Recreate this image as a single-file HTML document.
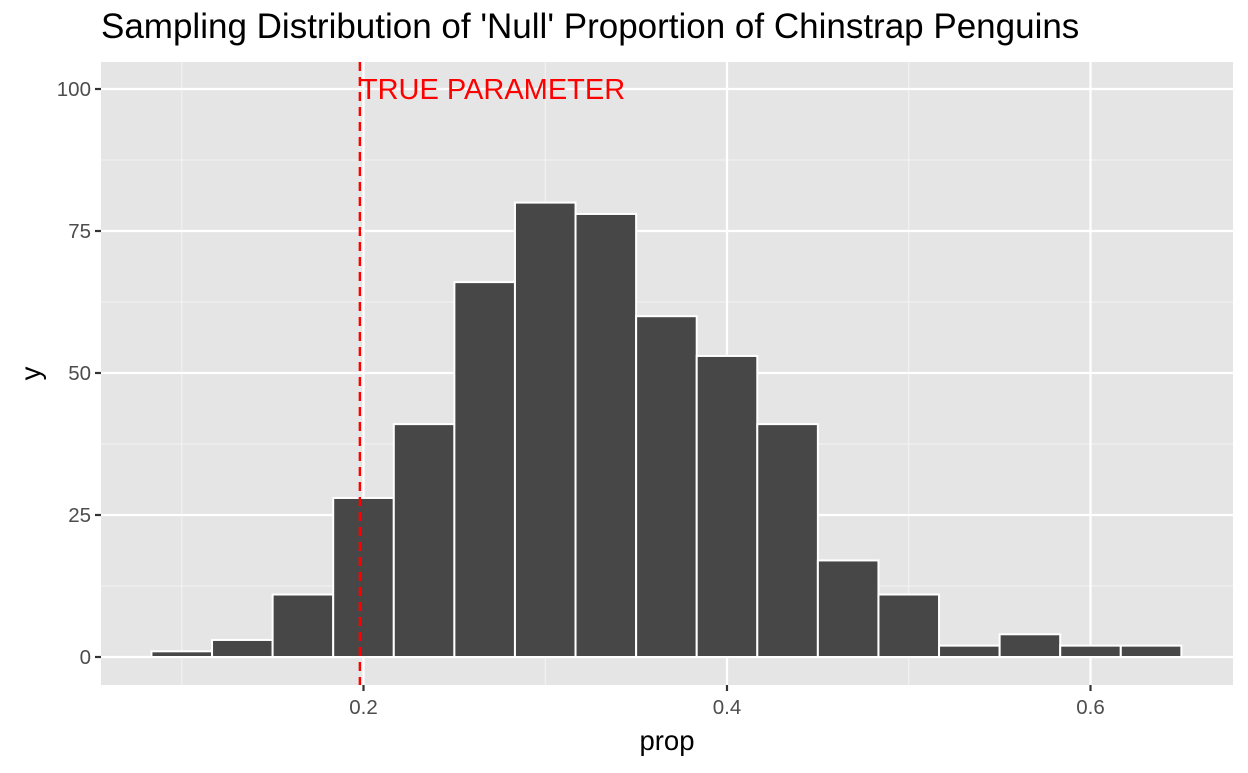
<!DOCTYPE html>
<html><head><meta charset="utf-8"><style>
body{margin:0;background:#fff;}
svg text{font-family:"Liberation Sans",sans-serif;}
</style></head><body>
<svg id="c" width="1248" height="768"></svg>
<script>
const counts=[1,3,11,28,41,66,80,78,60,53,41,17,11,2,4,2,2];
const firstCenter=0.1;
const binWidth=1/30;
const xTicks=[0.2,0.4,0.6];
const xMinor=[0.1,0.3,0.5];
const yTicks=[0,25,50,75,100];
const yMinor=[12.5,37.5,62.5,87.5];
const trueParam=0.198;
const P={l:101,r:1233,t:62,b:685};
const X=v=>363.5+(v-0.2)*1817.5;
const Y=v=>657-v*5.68;
const s=document.getElementById('c');
const NS='http://www.w3.org/2000/svg';
function mk(t,a,p){const e=document.createElementNS(NS,t);for(const k in a)e.setAttribute(k,a[k]);(p||s).appendChild(e);return e;}
let e=mk('rect',{x:P.l,y:P.t,width:P.r-P.l,height:P.b-P.t,fill:'#e5e5e5'});


xMinor.forEach(v=>{mk('line',{x1:X(v),x2:X(v),y1:P.t,y2:P.b,stroke:'#f2f2f2','stroke-width':1.1});});
yMinor.forEach(v=>{mk('line',{x1:P.l,x2:P.r,y1:Y(v),y2:Y(v),stroke:'#f2f2f2','stroke-width':1.1});});
xTicks.forEach(v=>{
 mk('line',{x1:X(v),x2:X(v),y1:P.t,y2:P.b,stroke:'#fff','stroke-width':2.2});
 mk('line',{x1:X(v),x2:X(v),y1:P.b,y2:P.b+6,stroke:'#333','stroke-width':2.2});
 const t=mk('text',{x:X(v),y:P.b+29,'text-anchor':'middle','font-size':20.5,fill:'#4d4d4d'});t.textContent=v.toFixed(1);
 
 
});
yTicks.forEach(v=>{
 mk('line',{x1:P.l,x2:P.r,y1:Y(v),y2:Y(v),stroke:'#fff','stroke-width':2.2});
 mk('line',{x1:P.l-6,x2:P.l,y1:Y(v),y2:Y(v),stroke:'#333','stroke-width':2.2});
 const t=mk('text',{x:P.l-10,y:Y(v)+7,'text-anchor':'end','font-size':20.5,fill:'#4d4d4d'});t.textContent=v;
 
 
});
counts.forEach((c,i)=>{
 const cx=firstCenter+i*binWidth;
 const x0=X(cx-binWidth/2),x1=X(cx+binWidth/2);
 const r=mk('rect',{x:x0,y:Y(c),width:x1-x0,height:Y(0)-Y(c),fill:'#474747',stroke:'#fff','stroke-width':2});
 
 
});
let d=mk('line',{x1:X(trueParam),x2:X(trueParam),y1:P.t,y2:P.b,stroke:'#ff0000','stroke-width':2.4,'stroke-dasharray':'9,6'});


let lt=mk('text',{x:X(trueParam),y:Y(100)+10,'font-size':29,fill:'#ff0000'});lt.textContent='TRUE PARAMETER';


let tt=mk('text',{x:101,y:38,'font-size':35,fill:'#000'});tt.textContent="Sampling Distribution of 'Null' Proportion of Chinstrap Penguins";


let xt=mk('text',{x:(P.l+P.r)/2,y:750,'text-anchor':'middle','font-size':27.5,fill:'#000'});xt.textContent='prop';


let yt=mk('text',{x:40,y:(P.t+P.b)/2,'text-anchor':'middle','font-size':27.5,fill:'#000',transform:`rotate(-90 40 ${(P.t+P.b)/2})`});yt.textContent='y';


</script>
</body></html>
